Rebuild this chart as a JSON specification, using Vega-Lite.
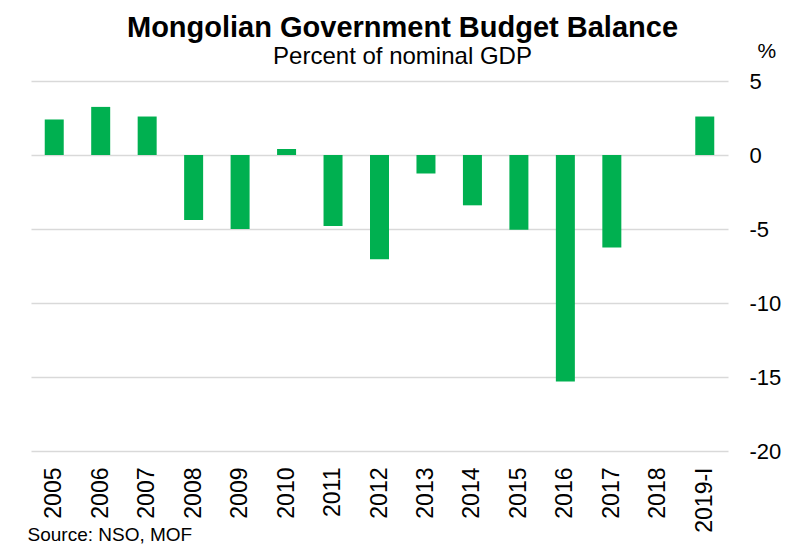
{
  "$schema": "https://vega.github.io/schema/vega-lite/v6.json",
  "autosize": "none",
  "width": 697,
  "height": 370,
  "padding": {"left": 31, "top": 81, "right": 57, "bottom": 98},
  "background": "white",
  "title": {
    "text": "Mongolian Government Budget Balance",
    "subtitle": "Percent of nominal GDP",
    "anchor": "middle",
    "frame": "group",
    "dx": 23,
    "offset": -29,
    "font": "Liberation Sans",
    "fontSize": 29,
    "fontWeight": "bold",
    "color": "#000000",
    "subtitleFont": "Liberation Sans",
    "subtitleFontSize": 24,
    "subtitleColor": "#000000",
    "subtitlePadding": 2
  },
  "data": {
    "values": [
      {"year": "2005", "balance": 2.4},
      {"year": "2006", "balance": 3.25},
      {"year": "2007", "balance": 2.6},
      {"year": "2008", "balance": -4.4},
      {"year": "2009", "balance": -5.0},
      {"year": "2010", "balance": 0.4},
      {"year": "2011", "balance": -4.8},
      {"year": "2012", "balance": -7.05},
      {"year": "2013", "balance": -1.25},
      {"year": "2014", "balance": -3.4},
      {"year": "2015", "balance": -5.05},
      {"year": "2016", "balance": -15.3},
      {"year": "2017", "balance": -6.25},
      {"year": "2018", "balance": null},
      {"year": "2019-I", "balance": 2.6}
    ]
  },
  "mark": {"type": "bar", "color": "#00B050", "width": 19},
  "encoding": {
    "x": {
      "field": "year",
      "type": "nominal",
      "sort": null,
      "scale": {"domain": ["2005","2006","2007","2008","2009","2010","2011","2012","2013","2014","2015","2016","2017","2018","2019-I"], "paddingInner": 0, "paddingOuter": 0},
      "axis": {
        "labelAngle": -90,
        "labelAlign": "right",
        "labelBaseline": "middle",
        "labelPadding": 16,
        "labelFont": "Liberation Sans",
        "labelFontSize": 23,
        "labelColor": "#000000",
        "domain": false,
        "ticks": false,
        "grid": false,
        "title": "Source: NSO, MOF",
        "titleFont": "Liberation Sans",
        "titleFontSize": 19,
        "titleFontWeight": "normal",
        "titleColor": "#000000",
        "titleAnchor": "start",
        "titleAlign": "left",
        "titleBaseline": "alphabetic",
        "titleX": -4,
        "titleY": 89
      }
    },
    "y": {
      "field": "balance",
      "type": "quantitative",
      "scale": {"domain": [-20, 5], "nice": false, "zero": false},
      "axis": {
        "orient": "right",
        "values": [5, 0, -5, -10, -15, -20],
        "labelExpr": "toString(datum.value)",
        "labelFont": "Liberation Sans",
        "labelFontSize": 22,
        "labelColor": "#000000",
        "labelPadding": 21,
        "labelAlign": "left",
        "domain": false,
        "ticks": false,
        "grid": true,
        "gridColor": "#d9d9d9",
        "gridWidth": 1.5,
        "title": "%",
        "titleAngle": 0,
        "titleFont": "Liberation Sans",
        "titleFontSize": 21,
        "titleFontWeight": "normal",
        "titleColor": "#000000",
        "titleAlign": "left",
        "titleBaseline": "alphabetic",
        "titleX": 29,
        "titleY": -24
      }
    }
  },
  "config": {"view": {"stroke": null}}
}
